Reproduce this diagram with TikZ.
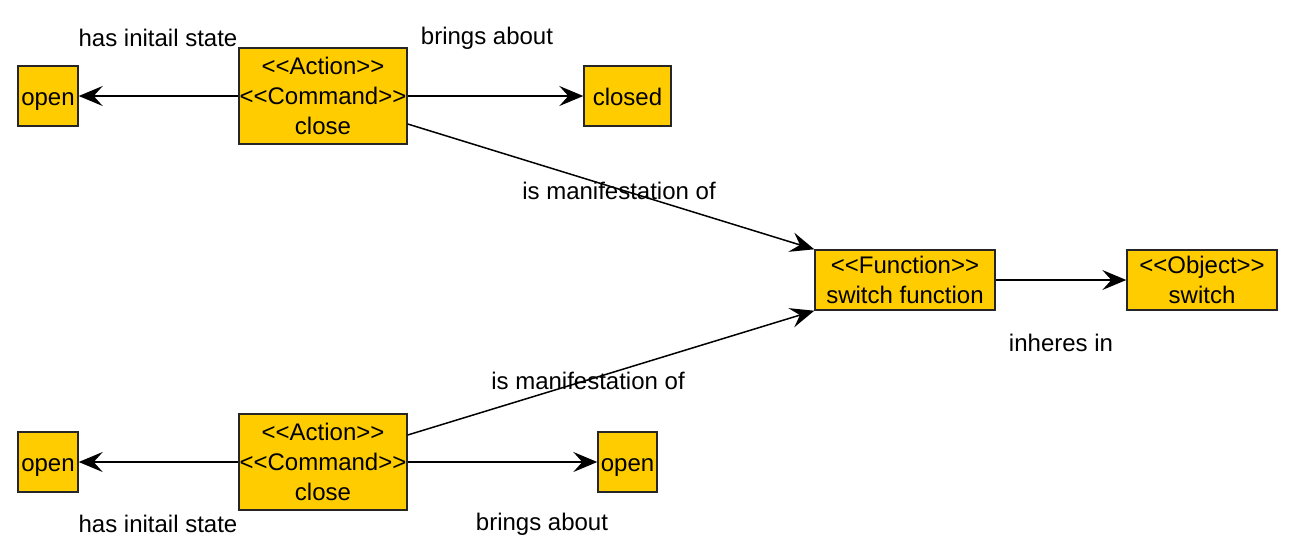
\documentclass[tikz,border=0pt]{standalone}
\usepackage{fontspec}
\setmainfont{Liberation Sans}
\usetikzlibrary{arrows.meta}
\definecolor{boxfill}{RGB}{255,204,0}
\newcommand{\stereo}[1]{<\kern0pt<#1>\kern0pt>}

\begin{document}
\begin{tikzpicture}[x=0.5pt, y=-0.5pt,
  box/.style={draw=black!85, fill=boxfill, line width=0.7pt, inner sep=0pt,
    align=center, minimum height=30pt, font=\fontsize{12}{15}\selectfont},
  state/.style={box, text height=11pt, text depth=1.5pt},
  rel/.style={-{Stealth[length=12pt,width=10pt,inset=4.5pt]}, line width=0.75pt},
  lbl/.style={font=\fontsize{12}{15}\selectfont}]
\useasboundingbox (0,0) rectangle (1294,558);
% upper command
\node[box, minimum width=84pt, minimum height=48pt] (actA) at (323,96) {\stereo{Action}\\\stereo{Command}\\close};
\node[state, minimum width=30pt] (openA) at (48,96) {open};
\node[state, minimum width=43.5pt] (closed) at (627.5,96) {closed};
% lower command
\node[box, minimum width=84pt, minimum height=48pt] (actB) at (323,462) {\stereo{Action}\\\stereo{Command}\\close};
\node[state, minimum width=30pt] (openB) at (48,462) {open};
\node[state, minimum width=29.5pt] (openC) at (627.5,462) {open};
% function and object
\node[box, minimum width=90pt] (fun) at (905,280) {\stereo{Function}\\switch function};
\node[box, minimum width=75pt] (obj) at (1202,280) {\stereo{Object}\\switch};

\draw[rel] (actA) -- (openA);
\draw[rel] (actA) -- (closed);
\draw[rel] ([yshift=-14pt]actA.east) -- (fun.north west);
\draw[rel] (actB) -- (openB);
\draw[rel] (actB) -- (openC);
\draw[rel] ([yshift=13.5pt]actB.east) -- (fun.south west);
\draw[rel] (fun) -- (obj);

\node[lbl] (initA) at (158,38) {has initail state};
\node[lbl] (bringA) at (487,38) {brings about};
\node[lbl] (maniA) at (619,191) {is manifestation of};
\node[lbl] (inh) at (1061,343) {inheres in};
\node[lbl] (maniB) at (588,381) {is manifestation of};
\node[lbl] (initB) at (158,524) {has initail state};
\node[lbl] (bringB) at (542,524) {brings about};
\end{tikzpicture}
\end{document}
